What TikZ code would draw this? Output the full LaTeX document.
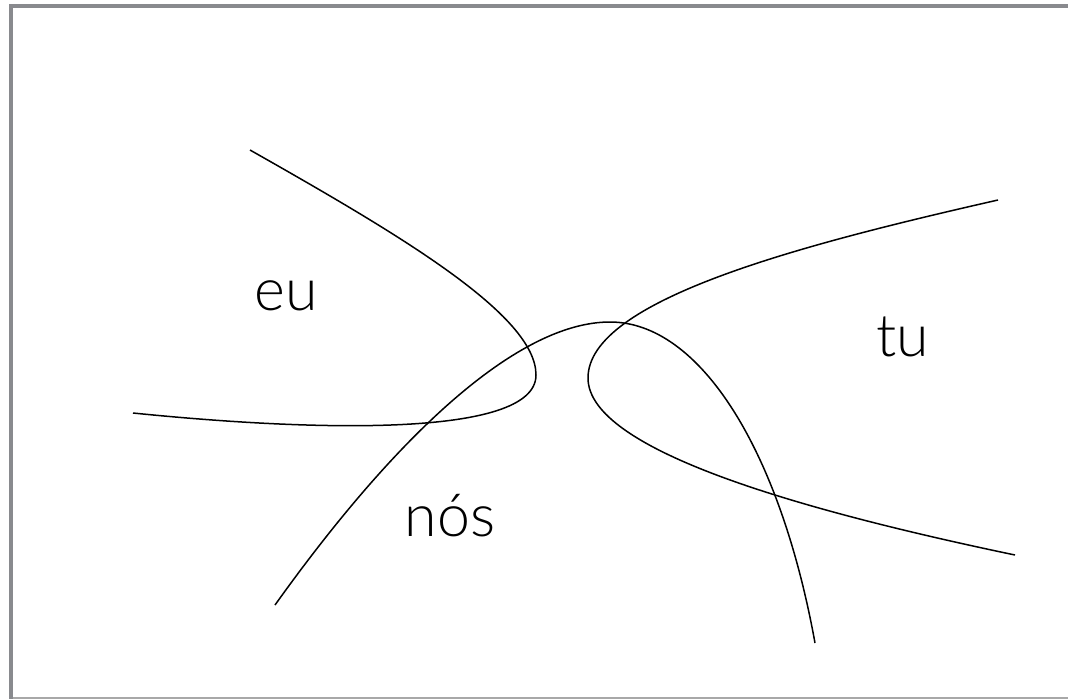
\documentclass[tikz,border=0pt]{standalone}
\usepackage{fontspec}
\setmainfont{Lato}[UprightFont=* Light]
\definecolor{framegray}{HTML}{898A8E}
\definecolor{bottomgray}{HTML}{A8A8A8}
\begin{document}
\begin{tikzpicture}[x=1pt,y=-1pt,
  curve/.style={black,line width=1.5pt},
  lbl/.style={font=\fontsize{59}{61}\selectfont,inner sep=0pt,anchor=base}]
\useasboundingbox (0,0) rectangle (1068,699);
\fill[framegray] (9,4) rectangle (1068,8);
\fill[framegray] (9,4) rectangle (13,699);
\fill[bottomgray] (13,697) rectangle (1068,699);
% left curve
\draw[curve] (250,150) .. controls (400,235) and (536,315) .. (536,375)
  .. controls (536,440) and (300,430) .. (133,413);
% middle curve
\draw[curve] (275,605) .. controls (400,430) and (520,322) .. (610,322)
  .. controls (700,322) and (780,450) .. (815,643);
% right curve
\draw[curve] (998,200) .. controls (800,245) and (588,300) .. (588,378)
  .. controls (588,450) and (800,510) .. (1015,555);
\node[lbl] (eu) at (286,310) {eu};
\node[lbl] (tu) at (903,356) {tu};
\node[lbl] (nos) at (450,536) {nós};
\end{tikzpicture}
\end{document}
